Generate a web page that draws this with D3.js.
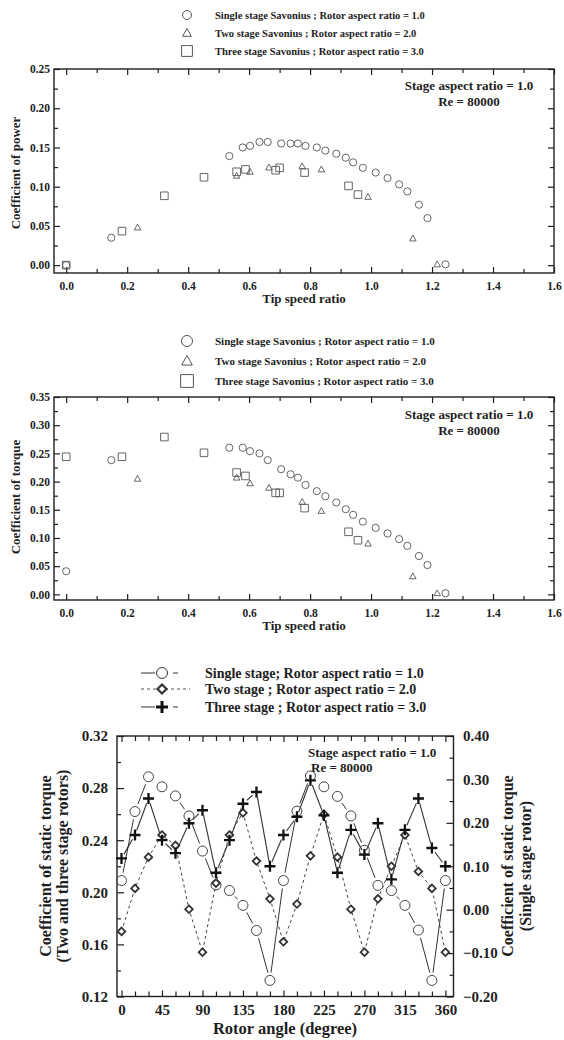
<!DOCTYPE html>
<html>
<head>
<meta charset="utf-8">
<script src="https://cdn.jsdelivr.net/npm/d3@7/dist/d3.min.js"></script>
<style>
  body { margin: 0; background: #fff; }
  svg { display: block; font-family: "Liberation Serif", "Times New Roman", serif; font-weight: bold; }
</style>
</head>
<body>
<svg id="chart" width="564" height="1040"></svg>
<script>
// 功率 / 扭矩系数 vs 叶尖速比
const singleTsr = [0, 0.148, 0.535, 0.579, 0.603, 0.634, 0.661, 0.705, 0.736, 0.760, 0.785, 0.822, 0.850, 0.886, 0.917, 0.941, 0.973, 1.015, 1.054, 1.092, 1.119, 1.157, 1.185, 1.244]
const singleCp = [0, 0.035, 0.139, 0.150, 0.152, 0.157, 0.157, 0.155, 0.155, 0.155, 0.152, 0.150, 0.146, 0.142, 0.137, 0.131, 0.124, 0.118, 0.111, 0.103, 0.094, 0.077, 0.060, 0.001]
const singleCt = [0.041, 0.238, 0.260, 0.260, 0.254, 0.250, 0.238, 0.222, 0.213, 0.207, 0.194, 0.183, 0.174, 0.163, 0.151, 0.141, 0.129, 0.118, 0.108, 0.098, 0.086, 0.068, 0.052, 0.002]

const twoTsr = [0.234, 0.559, 0.603, 0.665, 0.774, 0.837, 0.990, 1.137, 1.217]
const twoCp = [0.048, 0.114, 0.119, 0.1245, 0.126, 0.122, 0.087, 0.034, 0.001]
const twoCt = [0.205, 0.207, 0.197, 0.189, 0.164, 0.148, 0.090, 0.032, 0.002]

const threeTsr = [0, 0.183, 0.322, 0.452, 0.559, 0.588, 0.687, 0.700, 0.782, 0.926, 0.957]
const threeCp = [0, 0.0434, 0.0884, 0.112, 0.119, 0.122, 0.121, 0.124, 0.118, 0.101, 0.090]
const threeCt = [0.244, 0.244, 0.279, 0.251, 0.216, 0.210, 0.180, 0.180, 0.153, 0.111, 0.096]

const tsrTicks = [0, 0.2, 0.4, 0.6, 0.8, 1.0, 1.2, 1.4, 1.6]
const cpTicks = [0, 0.05, 0.10, 0.15, 0.20, 0.25]
const ctTicks = [0, 0.05, 0.10, 0.15, 0.20, 0.25, 0.30, 0.35]
const tsrLegend = [
  'Single stage Savonius ; Rotor aspect ratio = 1.0',
  'Two stage Savonius ; Rotor aspect ratio = 2.0',
  'Three stage Savonius ; Rotor aspect ratio = 3.0'
]

// 静扭矩系数 vs 转子角度
const rotorAngle = [0, 15, 30, 45, 60, 75, 90, 105, 120, 135, 150, 165, 180, 195, 210, 225, 240, 255, 270, 285, 300, 315, 330, 345, 360]
const staticSingle = [0.067, 0.226, 0.306, 0.283, 0.262, 0.216, 0.135, 0.057, 0.044, 0.010, -0.048, -0.163, 0.067, 0.227, 0.308, 0.283, 0.261, 0.216, 0.137, 0.056, 0.044, 0.010, -0.047, -0.163, 0.067]
const staticTwo = [0.170, 0.203, 0.227, 0.244, 0.236, 0.187, 0.154, 0.207, 0.244, 0.261, 0.224, 0.195, 0.162, 0.191, 0.228, 0.260, 0.227, 0.187, 0.154, 0.195, 0.220, 0.244, 0.216, 0.203, 0.154]
const staticThree = [0.226, 0.244, 0.272, 0.240, 0.230, 0.253, 0.263, 0.215, 0.240, 0.268, 0.277, 0.220, 0.244, 0.258, 0.286, 0.259, 0.215, 0.248, 0.229, 0.253, 0.210, 0.248, 0.272, 0.234, 0.220]
const angleTicks = [0, 45, 90, 135, 180, 225, 270, 315, 360]
const leftTicks = [0.12, 0.16, 0.20, 0.24, 0.28, 0.32]
const rightTicks = [-0.20, -0.10, 0.00, 0.10, 0.20, 0.30, 0.40]
const staticLegend = [
  'Single stage; Rotor aspect ratio = 1.0',
  'Two stage ; Rotor aspect ratio = 2.0',
  'Three stage ; Rotor aspect ratio = 3.0'
]

const ink = '#1e1e1e'
const markInk = '#555'
const svg = d3.select('#chart')

// 标记形状
function marker(type, s) {
  if (type === 'circle') return `M${s},0A${s},${s} 0 1,1 ${-s},0A${s},${s} 0 1,1 ${s},0Z`
  if (type === 'triangle') return `M0,${-s}L${s * 0.95},${s * 0.72}L${-s * 0.95},${s * 0.72}Z`
  if (type === 'square') return `M${-s},${-s}H${s}V${s}H${-s}Z`
  if (type === 'diamond') return `M0,${-s}L${s},0L0,${s}L${-s},0Z`
  return `M${-s},0H${s}M0,${-s}V${s}`
}

// 向内刻度
function ticks(g, axis, pos, vals, size, fmt, pad, fs) {
  var a = g.append('g')
    .attr('transform', pos)
    .call(axis.tickValues(vals).tickSizeInner(-size).tickSizeOuter(0).tickPadding(pad).tickFormat(fmt || ''))
  a.attr('font-family', null).attr('font-size', null)
  a.select('.domain').remove()
  a.selectAll('line').attr('stroke', ink).attr('stroke-width', 1.2)
  a.selectAll('text').attr('fill', ink).style('font-size', fs + 'px')
}

function frame(g, x, y) {
  var [x0, x1] = x.range()
  var [y0, y1] = y.range()
  g.append('rect')
    .attr('x', x0).attr('y', y1)
    .attr('width', x1 - x0).attr('height', y0 - y1)
    .attr('fill', 'none').attr('stroke', ink).attr('stroke-width', 1.4)
}

// 叶尖速比图
function tsrPanel(yRange, yDomain, yTicks, yTitle, titleY, values, legendTop, legendGap, legendSize, legendFont, noteY) {
  var g = svg.append('g')
  var x = d3.scaleLinear().domain([-0.04, 1.6]).range([54, 554])
  var y = d3.scaleLinear().domain(yDomain).range(yRange)

  // 图例
  var types = ['circle', 'triangle', 'square']
  tsrLegend.forEach((t, i) => {
    var ly = legendTop + i * legendGap
    g.append('path')
      .attr('d', marker(types[i], legendSize[i]))
      .attr('transform', `translate(187,${ly})`)
      .attr('fill', 'none').attr('stroke', markInk).attr('stroke-width', 1)
    g.append('text')
      .attr('x', 215).attr('y', ly).attr('dy', '0.35em')
      .style('font-size', legendFont + 'px').attr('fill', ink)
      .text(t)
  })

  var minorX = d3.range(0.1, 1.6, 0.2)
  var step = yTicks[1] - yTicks[0]
  var minorY = yTicks.slice(0, -1).map((v) => v + step / 2)
  var [y0, y1] = y.range()
  ticks(g, d3.axisBottom(x), `translate(0,${y0})`, tsrTicks, 6, d3.format('.1f'), 9, 11.5)
  ticks(g, d3.axisBottom(x), `translate(0,${y0})`, minorX, 4, null, 0, 0)
  ticks(g, d3.axisTop(x), `translate(0,${y1})`, tsrTicks, 6, null, 0, 0)
  ticks(g, d3.axisTop(x), `translate(0,${y1})`, minorX, 4, null, 0, 0)
  ticks(g, d3.axisLeft(y), `translate(54,0)`, yTicks, 6, d3.format('.2f'), 4, 11.5)
  ticks(g, d3.axisLeft(y), `translate(54,0)`, minorY, 4, null, 0, 0)
  ticks(g, d3.axisRight(y), `translate(554,0)`, yTicks, 6, null, 0, 0)
  ticks(g, d3.axisRight(y), `translate(554,0)`, minorY, 4, null, 0, 0)
  frame(g, x, y)

  g.append('text')
    .attr('x', 304).attr('y', y0 + 30)
    .attr('text-anchor', 'middle').style('font-size', '13px').attr('fill', ink)
    .text('Tip speed ratio')
  g.append('text')
    .attr('transform', `translate(15,${titleY}) rotate(-90)`)
    .attr('dy', '0.35em').attr('text-anchor', 'middle')
    .style('font-size', '13px').attr('fill', ink)
    .text(yTitle)

  g.append('text')
    .attr('x', 469).attr('y', noteY)
    .attr('text-anchor', 'middle').style('font-size', '13px').attr('fill', ink)
    .text('Stage aspect ratio = 1.0')
  g.append('text')
    .attr('x', 469).attr('y', noteY + 16)
    .attr('text-anchor', 'middle').style('font-size', '13px').attr('fill', ink)
    .text('Re = 80000')

  // 数据点
  var sizes = [3.6, 3.4, 3.8]
  values.forEach((s, i) => {
    g.append('g')
      .selectAll('path')
      .data(d3.zip(s[0], s[1]))
      .join('path')
      .attr('d', marker(types[i], sizes[i]))
      .attr('transform', (d) => `translate(${x(d[0])},${y(d[1])})`)
      .attr('fill', 'none').attr('stroke', markInk).attr('stroke-width', 0.9)
  })
}

tsrPanel([273, 69], [-0.01, 0.25], cpTicks, 'Coefficient of power', 173,
  [[singleTsr, singleCp], [twoTsr, twoCp], [threeTsr, threeCp]],
  15, 18, [4.5, 4.6, 5.4], 10.5, 90)

tsrPanel([600, 397], [-0.01, 0.35], ctTicks, 'Coefficient of torque', 497,
  [[singleTsr, singleCt], [twoTsr, twoCt], [threeTsr, threeCt]],
  341, 20, [5.5, 5.6, 6.4], 11, 419)

// 静扭矩图
function staticPanel() {
  var g = svg.append('g')
  var x = d3.scaleLinear().domain([-5, 369]).range([117, 453.5])
  var yl = d3.scaleLinear().domain([0.12, 0.32]).range([996.5, 736])
  var yr = d3.scaleLinear().domain([-0.2, 0.4]).range([996.5, 736])

  var minorA = rotorAngle.filter((a) => a % 45 !== 0)
  var minorL = leftTicks.slice(0, -1).map((v) => v + 0.02)
  var minorR = rightTicks.slice(0, -1).map((v) => v + 0.05)
  ticks(g, d3.axisBottom(x), 'translate(0,996.5)', angleTicks, 6, d3.format('d'), 8, 15)
  ticks(g, d3.axisBottom(x), 'translate(0,996.5)', minorA, 5, null, 0, 0)
  ticks(g, d3.axisTop(x), 'translate(0,736)', angleTicks, 6, null, 0, 0)
  ticks(g, d3.axisTop(x), 'translate(0,736)', minorA, 5, null, 0, 0)
  ticks(g, d3.axisLeft(yl), 'translate(117,0)', leftTicks, 7, d3.format('.2f'), 9, 15)
  ticks(g, d3.axisLeft(yl), 'translate(117,0)', minorL, 4, null, 0, 0)
  ticks(g, d3.axisRight(yr), 'translate(453.5,0)', rightTicks, 7, d3.format('.2f'), 9.5, 15)
  ticks(g, d3.axisRight(yr), 'translate(453.5,0)', minorR, 4, null, 0, 0)
  frame(g, x, yl)

  g.append('text')
    .attr('x', 285).attr('y', 1034)
    .attr('text-anchor', 'middle').style('font-size', '16.5px').attr('fill', ink)
    .text('Rotor angle (degree)')
  ;[['Coefficient of static torque', 45], ['(Two and three stage rotors)', 62]].forEach((t) => {
    g.append('text')
      .attr('transform', `translate(${t[1]},866) rotate(-90)`)
      .attr('dy', '0.35em').attr('text-anchor', 'middle')
      .style('font-size', '16px').attr('fill', ink)
      .text(t[0])
  })
  ;[['Coefficient of static torque', 507], ['(Single stage rotor)', 525]].forEach((t) => {
    g.append('text')
      .attr('transform', `translate(${t[1]},866) rotate(-90)`)
      .attr('dy', '0.35em').attr('text-anchor', 'middle')
      .style('font-size', '16px').attr('fill', ink)
      .text(t[0])
  })

  g.append('text').attr('x', 308).attr('y', 757)
    .style('font-size', '13px').attr('fill', ink).text('Stage aspect ratio = 1.0')
  g.append('text').attr('x', 311).attr('y', 772)
    .style('font-size', '13px').attr('fill', ink).text('Re = 80000')

  // 断开的折线
  function brokenLine(pts, gap, width) {
    for (var i = 0; i < pts.length - 1; i++) {
      var p = pts[i], q = pts[i + 1]
      var dx = q[0] - p[0], dy = q[1] - p[1]
      var len = Math.hypot(dx, dy)
      if (len < gap * 2 + 2) continue
      var ux = dx / len, uy = dy / len
      g.append('line')
        .attr('x1', p[0] + ux * gap).attr('y1', p[1] + uy * gap)
        .attr('x2', q[0] - ux * gap).attr('y2', q[1] - uy * gap)
        .attr('stroke', '#333').attr('stroke-width', width)
    }
  }

  var ptsSingle = rotorAngle.map((a, i) => [x(a), yr(staticSingle[i])])
  var ptsTwo = rotorAngle.map((a, i) => [x(a), yl(staticTwo[i])])
  var ptsThree = rotorAngle.map((a, i) => [x(a), yl(staticThree[i])])

  g.append('path')
    .attr('d', d3.line()(ptsTwo))
    .attr('fill', 'none').attr('stroke', '#444').attr('stroke-width', 1)
    .attr('stroke-dasharray', '3,3')
  brokenLine(ptsSingle, 8, 1)
  brokenLine(ptsThree, 5, 1.1)

  g.append('g').selectAll('path').data(ptsTwo).join('path')
    .attr('d', marker('diamond', 3.8))
    .attr('transform', (d) => `translate(${d[0]},${d[1]})`)
    .attr('fill', '#fff').attr('stroke', '#333').attr('stroke-width', 1.8)
  g.append('g').selectAll('path').data(ptsSingle).join('path')
    .attr('d', marker('circle', 5))
    .attr('transform', (d) => `translate(${d[0]},${d[1]})`)
    .attr('fill', 'none').attr('stroke', '#444').attr('stroke-width', 1)
  g.append('g').selectAll('path').data(ptsThree).join('path')
    .attr('d', marker('plus', 5.5))
    .attr('transform', (d) => `translate(${d[0]},${d[1]})`)
    .attr('fill', 'none').attr('stroke', '#111').attr('stroke-width', 2.3)

  // 图例
  var rows = [673, 689, 707]
  var types = ['circle', 'diamond', 'plus']
  staticLegend.forEach((t, i) => {
    var ly = rows[i]
    if (i === 1) {
      g.append('line').attr('x1', 141).attr('x2', 190).attr('y1', ly).attr('y2', ly)
        .attr('stroke', '#555').attr('stroke-width', 1).attr('stroke-dasharray', '3,3')
    } else {
      g.append('line').attr('x1', 141).attr('x2', 155).attr('y1', ly).attr('y2', ly)
        .attr('stroke', '#333').attr('stroke-width', 1)
      g.append('line').attr('x1', 173).attr('x2', 178).attr('y1', ly).attr('y2', ly)
        .attr('stroke', '#333').attr('stroke-width', 1)
    }
    g.append('path')
      .attr('d', marker(types[i], i === 0 ? 5.5 : i === 1 ? 4.5 : 6))
      .attr('transform', `translate(162,${ly})`)
      .attr('fill', i === 1 ? '#fff' : 'none')
      .attr('stroke', i === 2 ? '#111' : '#333')
      .attr('stroke-width', i === 0 ? 1 : i === 1 ? 2.2 : 3)
    g.append('text')
      .attr('x', 205).attr('y', ly).attr('dy', '0.35em')
      .style('font-size', '14px').attr('fill', ink)
      .text(t)
  })
}

staticPanel()
</script>
</body>
</html>
